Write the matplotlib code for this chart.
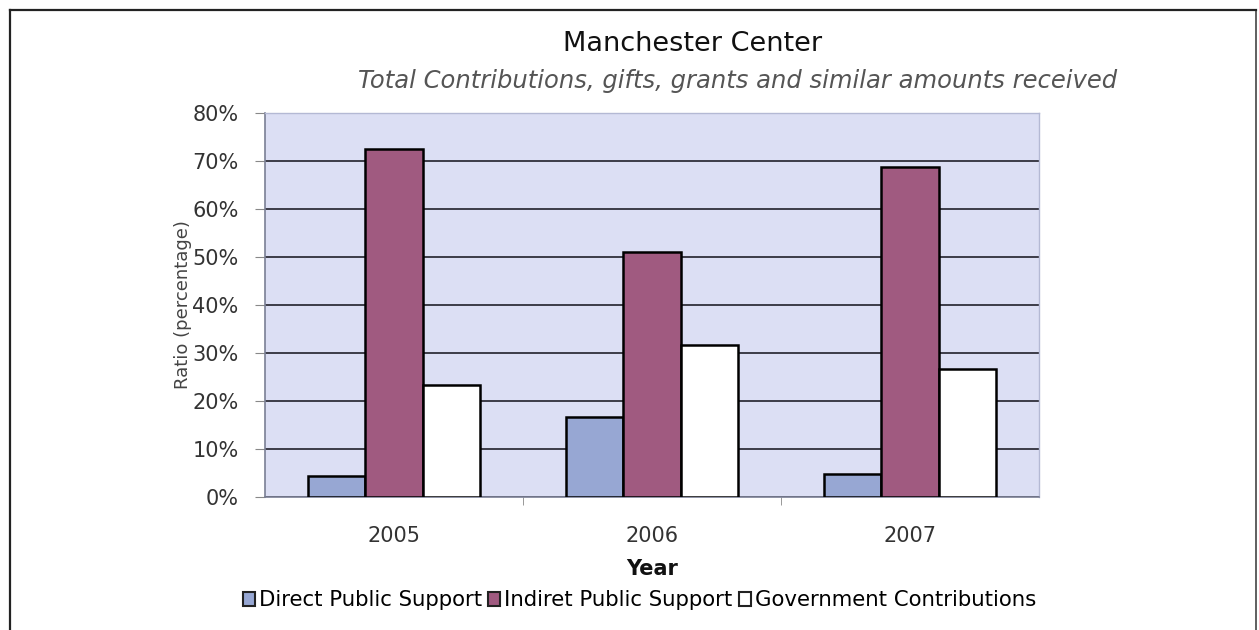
import numpy as np
import matplotlib
matplotlib.use('Agg')
import matplotlib.pyplot as plt
from matplotlib.patches import Rectangle
from matplotlib.lines import Line2D
from matplotlib.ticker import PercentFormatter

years = ['2005', '2006', '2007']
series = ['Direct Public Support', 'Indiret Public Support', 'Government Contributions']
direct = [4.4, 16.6, 4.8]
indirect = [72.5, 51.1, 68.8]
government = [23.4, 31.7, 26.6]
colors = ['#97a7d3', '#a05a80', '#ffffff']

plt.rcParams['font.family'] = ['DejaVu Sans']

fig = plt.figure(figsize=(12.59, 6.30), dpi=100, facecolor='white')
ax = fig.add_axes([0.2105, 0.2111, 0.6148, 0.6095])
ax.set_facecolor('#dcdff4')

x = np.arange(len(years))
w = 1 / 4.5
for i, (vals, c) in enumerate(zip([direct, indirect, government], colors)):
    ax.bar(x + (i - 1) * w, vals, width=w, color=c, edgecolor='black',
           linewidth=1.8, label=series[i], zorder=3)

ax.set_xlim(-0.5, 2.5)
ax.set_ylim(0, 80)
ax.set_yticks(np.arange(0, 81, 10))
ax.yaxis.set_major_formatter(PercentFormatter(decimals=0))
ax.grid(axis='y', color='#3c3c48', linewidth=1.4, zorder=1)
ax.set_axisbelow(True)

ax.set_xticks(x)
ax.set_xticklabels(years)
ax.set_xticks([0.5, 1.5], minor=True)
ax.tick_params(axis='x', which='major', length=0, pad=21, labelsize=15, labelcolor='#333333')
ax.tick_params(axis='x', which='minor', length=6, color='#888888', direction='out')
ax.tick_params(axis='y', length=7, color='#888888', labelsize=15, labelcolor='#333333', pad=12)

for s in ['left', 'bottom']:
    ax.spines[s].set_color('#7a7f95')
    ax.spines[s].set_linewidth(1.2)
for s in ['top', 'right']:
    ax.spines[s].set_color('#b4b9d4')
    ax.spines[s].set_linewidth(1.0)

ax.set_ylabel('Ratio (percentage)', fontsize=13, color='#444444', labelpad=0)
ax.set_xlabel('Year', fontsize=15, fontweight='bold', color='#111111', labelpad=9)

fig.text(0.550, 0.930, 'Manchester Center', ha='center', va='center',
         fontsize=19.5, color='#111111')
fig.text(0.586, 0.872, 'Total Contributions, gifts, grants and similar amounts received',
         ha='center', va='center', fontsize=17.5, style='italic', color='#555555')

# outer frame
fig.add_artist(Line2D([0.008, 0.008], [0, 0.984], transform=fig.transFigure,
                      color='#222222', linewidth=1.6))
fig.add_artist(Line2D([0.998, 0.998], [0, 0.984], transform=fig.transFigure,
                      color='#444444', linewidth=1.2))
fig.add_artist(Line2D([0.008, 0.998], [0.984, 0.984], transform=fig.transFigure,
                      color='#222222', linewidth=1.6))

handles = [Rectangle((0, 0), 1, 1, facecolor=c, edgecolor='#222222', linewidth=1.5)
           for c in colors]
fig.legend(handles, series, loc='center', bbox_to_anchor=(0.508, 0.047), ncol=3,
           frameon=False, fontsize=15.3, handlelength=0.55, handleheight=0.7,
           handletextpad=0.2, columnspacing=0.3)

fig.savefig('out.png', dpi=100, facecolor='white')
